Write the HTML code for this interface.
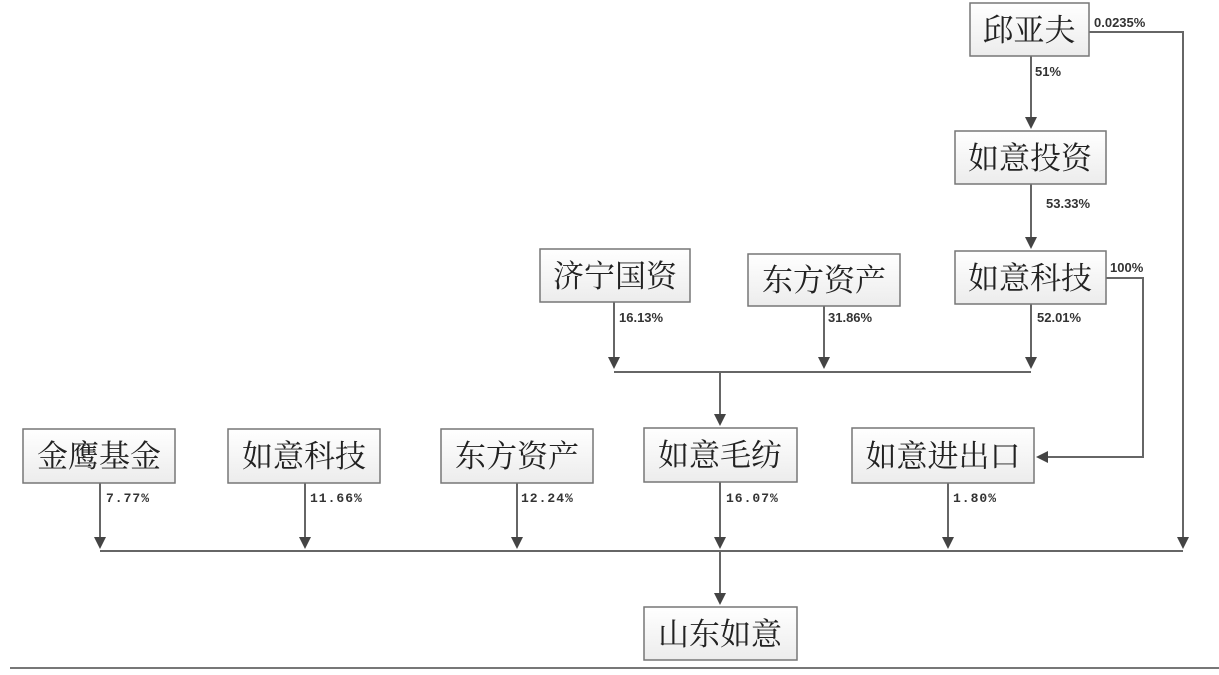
<!DOCTYPE html>
<html><head><meta charset="utf-8"><style>
body{margin:0;background:#fff;width:1219px;height:670px;overflow:hidden}
svg text.b{font-family:"Noto Serif CJK SC","Liberation Serif",serif;font-size:31px;fill:#222;text-anchor:middle}
svg text.p{font-family:"Liberation Sans","DejaVu Sans",sans-serif;font-size:13px;font-weight:bold;fill:#333}
svg text.m{font-family:"Liberation Mono","DejaVu Sans Mono",monospace;font-size:13px;font-weight:bold;fill:#333;letter-spacing:1px}
</style></head><body>
<svg width="1219" height="670" xmlns="http://www.w3.org/2000/svg">
<defs>
<linearGradient id="g" x1="0" y1="0" x2="0" y2="1"><stop offset="0" stop-color="#fff"/><stop offset="1" stop-color="#ececec"/></linearGradient>
</defs>
<g stroke="#666" stroke-width="2" fill="none">
<path d="M1031,56 V120"/>
<path d="M1031,184 V240"/>
<path d="M1089,32 H1183 V540"/>
<path d="M1106,278 H1143 V457 H1046"/>
<path d="M614,302 V360"/>
<path d="M824,306 V360"/>
<path d="M1031,304 V360"/>
<path d="M614,372 H1031"/>
<path d="M720,372 V416"/>
<path d="M100,483 V540"/>
<path d="M305,483 V540"/>
<path d="M517,483 V540"/>
<path d="M720,482 V540"/>
<path d="M948,483 V540"/>
<path d="M100,551 H1183"/>
<path d="M720,551 V596"/>
<path d="M10,668 H1219" stroke="#777"/>
</g>
<g fill="#444">
<polygon points="1025,117 1037,117 1031,129"/>
<polygon points="1025,237 1037,237 1031,249"/>
<polygon points="1177,537 1189,537 1183,549"/>
<polygon points="1048,451 1048,463 1036,457"/>
<polygon points="608,357 620,357 614,369"/>
<polygon points="818,357 830,357 824,369"/>
<polygon points="1025,357 1037,357 1031,369"/>
<polygon points="714,414 726,414 720,426"/>
<polygon points="94,537 106,537 100,549"/>
<polygon points="299,537 311,537 305,549"/>
<polygon points="511,537 523,537 517,549"/>
<polygon points="714,537 726,537 720,549"/>
<polygon points="942,537 954,537 948,549"/>
<polygon points="714,593 726,593 720,605"/>
</g>
<g stroke="#777" stroke-width="1.5" fill="url(#g)">
<rect x="970" y="3" width="119" height="53"/>
<rect x="955" y="131" width="151" height="53"/>
<rect x="955" y="251" width="151" height="53"/>
<rect x="540" y="249" width="150" height="53"/>
<rect x="748" y="254" width="152" height="52"/>
<rect x="23" y="429" width="152" height="54"/>
<rect x="228" y="429" width="152" height="54"/>
<rect x="441" y="429" width="152" height="54"/>
<rect x="644" y="428" width="153" height="54"/>
<rect x="852" y="428" width="182" height="55"/>
<rect x="644" y="607" width="153" height="53"/>
</g>
<text class="b" x="1029" y="41">邱亚夫</text>
<text class="b" x="1030" y="169">如意投资</text>
<text class="b" x="1030" y="289">如意科技</text>
<text class="b" x="615" y="287">济宁国资</text>
<text class="b" x="824" y="291">东方资产</text>
<text class="b" x="99" y="467">金鹰基金</text>
<text class="b" x="304" y="467">如意科技</text>
<text class="b" x="517" y="467">东方资产</text>
<text class="b" x="720" y="466">如意毛纺</text>
<text class="b" x="943" y="467">如意进出口</text>
<text class="b" x="720" y="645">山东如意</text>
<text class="p" x="1094" y="27">0.0235%</text>
<text class="p" x="1035" y="76">51%</text>
<text class="p" x="1046" y="208">53.33%</text>
<text class="p" x="1110" y="272">100%</text>
<text class="p" x="1037" y="322">52.01%</text>
<text class="p" x="619" y="322">16.13%</text>
<text class="p" x="828" y="322">31.86%</text>
<text class="m" x="106" y="502">7.77%</text>
<text class="m" x="310" y="502">11.66%</text>
<text class="m" x="521" y="502">12.24%</text>
<text class="m" x="726" y="502">16.07%</text>
<text class="m" x="953" y="502">1.80%</text>
</svg>
</body></html>
